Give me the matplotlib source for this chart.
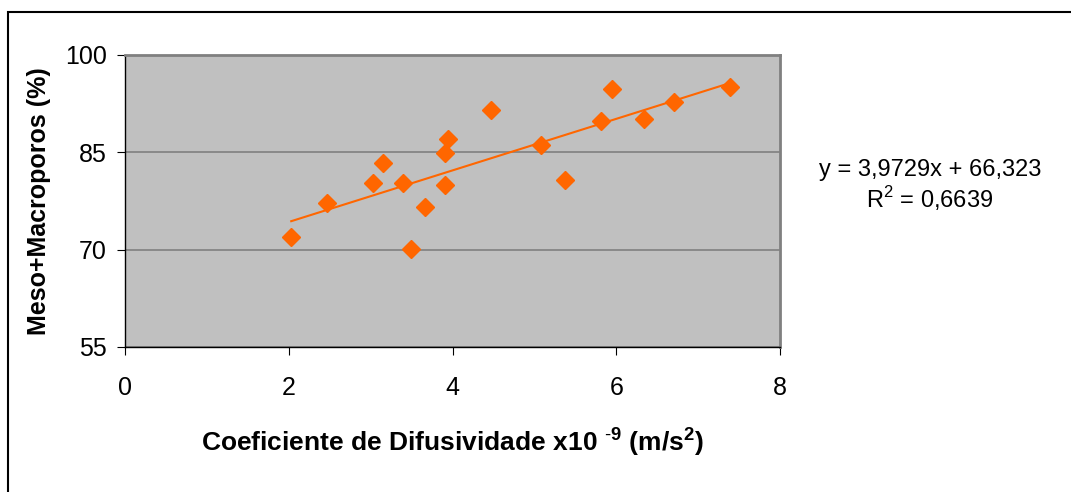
import numpy as np
import matplotlib
matplotlib.use('Agg')
from matplotlib import pyplot as plt
from matplotlib.patches import Rectangle

plt.rcParams['font.family'] = ['Liberation Sans', 'DejaVu Sans']
plt.rcParams['mathtext.fontset'] = 'custom'
plt.rcParams['mathtext.rm'] = 'Liberation Sans'
plt.rcParams['mathtext.bf'] = 'Liberation Sans:bold'

# data
difus = [2.03, 2.47, 3.03, 3.15, 3.39, 3.49, 3.66, 3.91, 3.91, 3.95,
         4.47, 5.08, 5.37, 5.81, 5.95, 6.34, 6.71, 7.39]
poros = [72.0, 77.2, 80.2, 83.3, 80.2, 70.1, 76.6, 84.9, 79.9, 87.0,
         91.6, 86.1, 80.8, 89.8, 94.7, 90.1, 92.8, 95.0]
# linear trend as printed on the chart
slope = 3.9729
intercept = 66.323
r2 = 0.6639

xticks = [0, 2, 4, 6, 8]
yticks = [55, 70, 85, 100]

fig = plt.figure(figsize=(10.71, 4.92), dpi=100)
ax = fig.add_axes([125/1071, 1-347/492, 655/1071, 292/492])
ax.set_facecolor('#C0C0C0')

x = np.array(difus)
xl = np.array([x.min(), x.max()])
ax.plot(xl, slope*xl + intercept, color='#FF6600', lw=1.5, zorder=2)
ax.plot(x, poros, 'D', color='#FF6600', ms=9, mec='#FF6600', zorder=3)

ax.set_xlim(0, 8)
ax.set_ylim(55, 100)
ax.set_xticks(xticks)
ax.set_yticks(yticks)
ax.yaxis.grid(True, color='#808080', lw=1.2)
ax.set_axisbelow(True)
ax.tick_params(labelsize=18, length=6, direction='out', color='black')
ax.tick_params(axis='y', pad=7)
ax.tick_params(axis='x', pad=15)

for s in ['top', 'right']:
    ax.spines[s].set_color('#808080')
    ax.spines[s].set_linewidth(2)
for s in ['left', 'bottom']:
    ax.spines[s].set_color('black')
    ax.spines[s].set_linewidth(1)

ax.set_ylabel('Meso+Macroporos (%)', fontsize=18, fontweight='bold', labelpad=10)
ax.set_xlabel(r'Coeficiente de Difusividade x10 $^{\mathbf{\text{-}9}}$ (m/s$^{\mathbf{2}}$)',
              fontsize=19, fontweight='bold', labelpad=18)

eq = 'y = %sx + %s' % (str(slope).replace('.', ','), str(intercept).replace('.', ','))
fig.text(930/1071, 1-170/492, eq, fontsize=17, ha='center', va='center')
fig.text(930/1071, 1-199/492, r'R$^{2}$ = ' + str(r2).replace('.', ','),
         fontsize=17, ha='center', va='center')

fig.patches.append(Rectangle((8/1071, -0.1), 1.2, 1-12/492+0.1, transform=fig.transFigure,
                             fill=False, edgecolor='black', lw=1.5))

fig.savefig('out.png', dpi=100)
